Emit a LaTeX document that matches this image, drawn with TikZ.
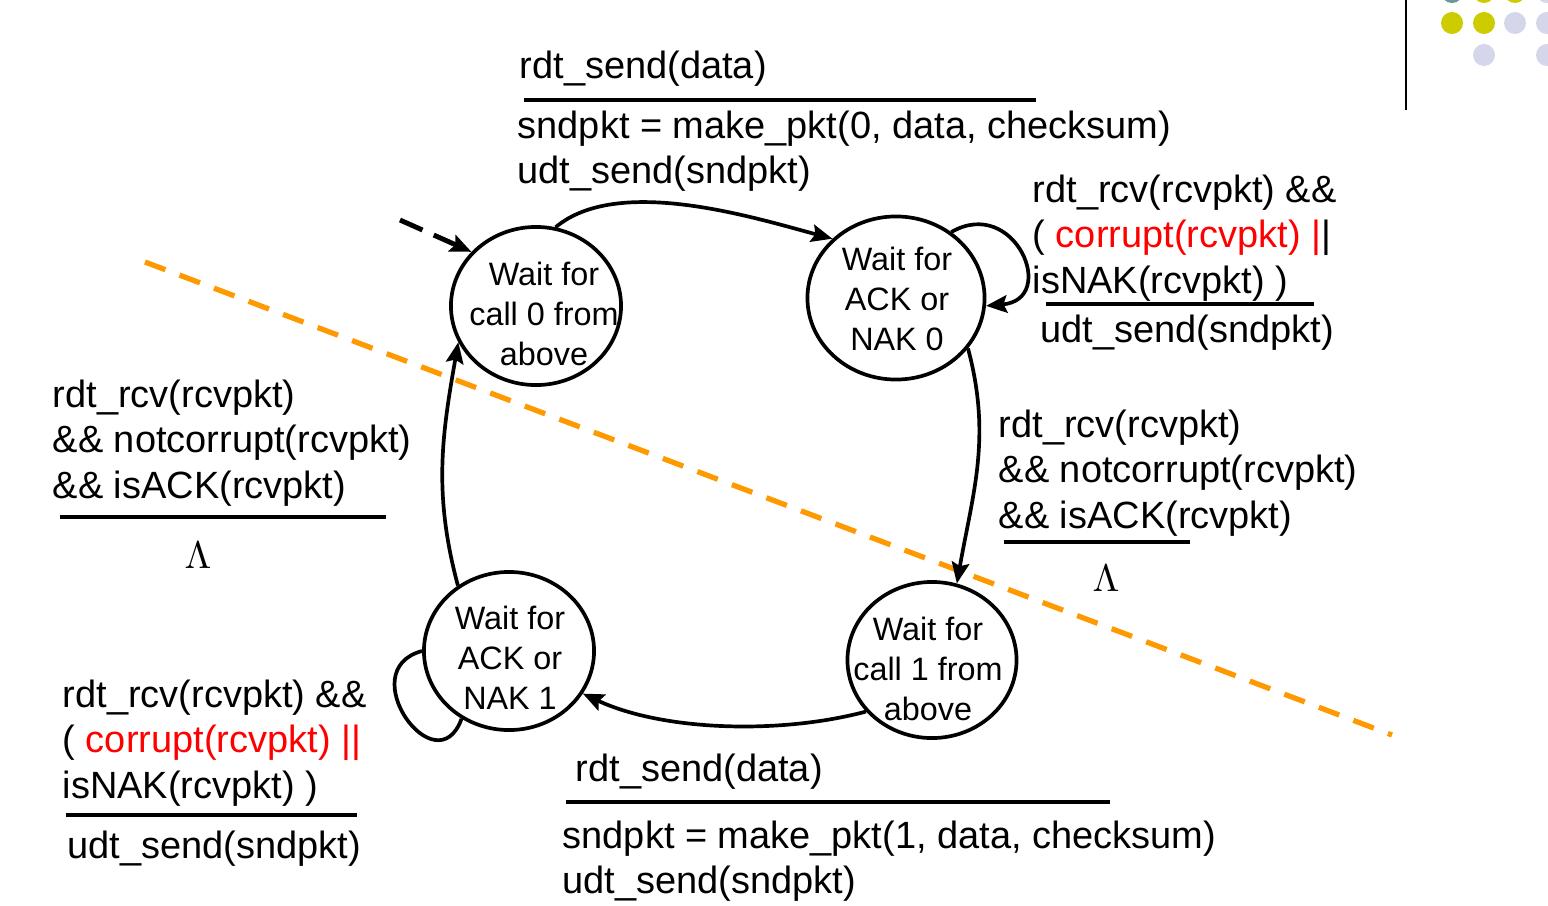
\documentclass[tikz,border=0pt]{standalone}
\usepackage{fontspec}
\setmainfont{Liberation Sans}
\newfontfamily\lamfont{Liberation Serif}
\usetikzlibrary{shapes.geometric,arrows.meta}

\definecolor{cutorange}{RGB}{255,153,0}
\definecolor{dotyellow}{RGB}{204,204,0}
\definecolor{dotlilac}{RGB}{214,214,235}
\definecolor{dotteal}{RGB}{102,153,153}

\begin{document}
\begin{tikzpicture}[x=0.01cm, y=-0.01cm, >={Stealth[length=6pt,width=5pt,inset=1pt]},
        state/.style={draw, ellipse, line width=1.05pt, minimum width=1.70cm, minimum height=1.58cm, inner sep=0pt},
        statetext/.style={align=center, inner sep=0pt, font=\fontsize{9.2pt}{11.4pt}\selectfont},
        lbl/.style={anchor=north west, align=left, inner sep=0pt, font=\fontsize{10.8pt}{13pt}\selectfont},
        lam/.style={inner sep=0pt, font=\fontsize{10.8pt}{13pt}\lamfont},
        arc/.style={->, line width=1.05pt},
        bar/.style={line width=1.4pt}]

        \useasboundingbox (0,0) rectangle (1548,906);

        % Slide ornament in the top right corner
        \draw[line width=0.6pt] (1406,0) -- (1406,110);
        \fill[dotteal] (1452,-8) circle (0.11cm);
        \fill[dotyellow] (1484,-8) circle (0.11cm);
        \fill[dotyellow] (1515,-8) circle (0.11cm);
        \fill[dotlilac] (1547,-8) circle (0.11cm);
        \fill[dotyellow] (1452,23) circle (0.11cm);
        \fill[dotyellow] (1484,23) circle (0.11cm);
        \fill[dotlilac] (1515,23) circle (0.11cm);
        \fill[dotlilac] (1547,23) circle (0.11cm);
        \fill[dotlilac] (1484,55) circle (0.11cm);
        \fill[dotlilac] (1547,55) circle (0.11cm);

        % Orange cut between the two halves (seq. 0 / seq. 1)
        \coordinate (cutA) at (145,262);
        \coordinate (cutB) at (1392,735);
        \draw[cutorange, line width=1.5pt, dash pattern=on 6.2pt off 4.3pt] (cutA) -- (cutB);

        % The four states
        \node[state] (call0) at (536,306) {};
        \node[state, minimum width=1.77cm, minimum height=1.63cm] (ack0) at (896,298) {};
        \node[state, minimum width=1.69cm, minimum height=1.56cm] (call1) at (932,660) {};
        \node[state] (ack1) at (509,651) {};

        \node[statetext] (call0txt) at (544,314) {Wait for\\call 0 from\\above};
        \node[statetext] (ack0txt) at (897,299) {Wait for\\ACK or\\NAK 0};
        \node[statetext] (call1txt) at (928,669) {Wait for\\call 1 from\\above};
        \node[statetext] (ack1txt) at (510,658) {Wait for\\ACK or\\NAK 1};

        % Initial state (dashed)
        \coordinate (init) at (400,220);
        \draw[arc, line width=1.4pt, dash pattern=on 7pt off 3.5pt] (init) -- (call0.140);

        % Transitions
        \draw[arc] (call0.76) to[out=40, in=165, looseness=0.75] (ack0.137);
        \draw[arc] (ack0.50) to[out=30, in=5, looseness=2.3] (ack0.-5);
        \draw[arc] (ack0.-35) to[out=-75, in=80] (call1.72);
        \draw[arc] (call1.218) to[out=195, in=-25, looseness=0.8] (ack1.-30);
        \draw[line width=1.05pt] (ack1.180) to[out=195, in=-110, looseness=2.4] (ack1.-125);
        \draw[arc] (ack1.128) to[out=105, in=-100] (call0.205);

        % Top transition: call 0 -> ACK/NAK 0
        \node[lbl] (sendev0) at (519,50) {rdt\_send(data)};
        \draw[bar] (524,100) -- (1036,100);
        \node[lbl] (sendact0) at (517,110) {sndpkt = make\_pkt(0, data, checksum)\\udt\_send(sndpkt)};

        % Self loop on ACK/NAK 0
        \node[lbl] (nakev0) at (1032,174) {rdt\_rcv(rcvpkt) \&\&\\( \textcolor{red}{corrupt(rcvpkt) |}|\\isNAK(rcvpkt) )};
        \draw[bar] (1046,304) -- (1314,304);
        \node[lbl] (nakact0) at (1040,314) {udt\_send(sndpkt)};

        % ACK/NAK 0 -> call 1
        \node[lbl] (ackev0) at (998,409) {rdt\_rcv(rcvpkt)\\\&\& notcorrupt(rcvpkt)\\\&\& isACK(rcvpkt)};
        \draw[bar] (1004,542) -- (1190,542);
        \node[lam] (ackact0) at (1106,578) {$\Lambda$};

        % ACK/NAK 1 -> call 0
        \node[lbl] (ackev1) at (52,379) {rdt\_rcv(rcvpkt)\\\&\& notcorrupt(rcvpkt)\\\&\& isACK(rcvpkt)};
        \draw[bar] (60,517) -- (386,517);
        \node[lam] (ackact1) at (198,555) {$\Lambda$};

        % Self loop on ACK/NAK 1
        \node[lbl] (nakev1) at (62,679) {rdt\_rcv(rcvpkt) \&\&\\( \textcolor{red}{corrupt(rcvpkt) ||}\\isNAK(rcvpkt) )};
        \draw[bar] (66,815) -- (357,815);
        \node[lbl] (nakact1) at (67,830) {udt\_send(sndpkt)};

        % Bottom transition: call 1 -> ACK/NAK 1
        \node[lbl] (sendev1) at (575,753) {rdt\_send(data)};
        \draw[bar] (566,802) -- (1110,802);
        \node[lbl] (sendact1) at (562,820) {sndpkt = make\_pkt(1, data, checksum)\\udt\_send(sndpkt)};

\end{tikzpicture}
\end{document}
